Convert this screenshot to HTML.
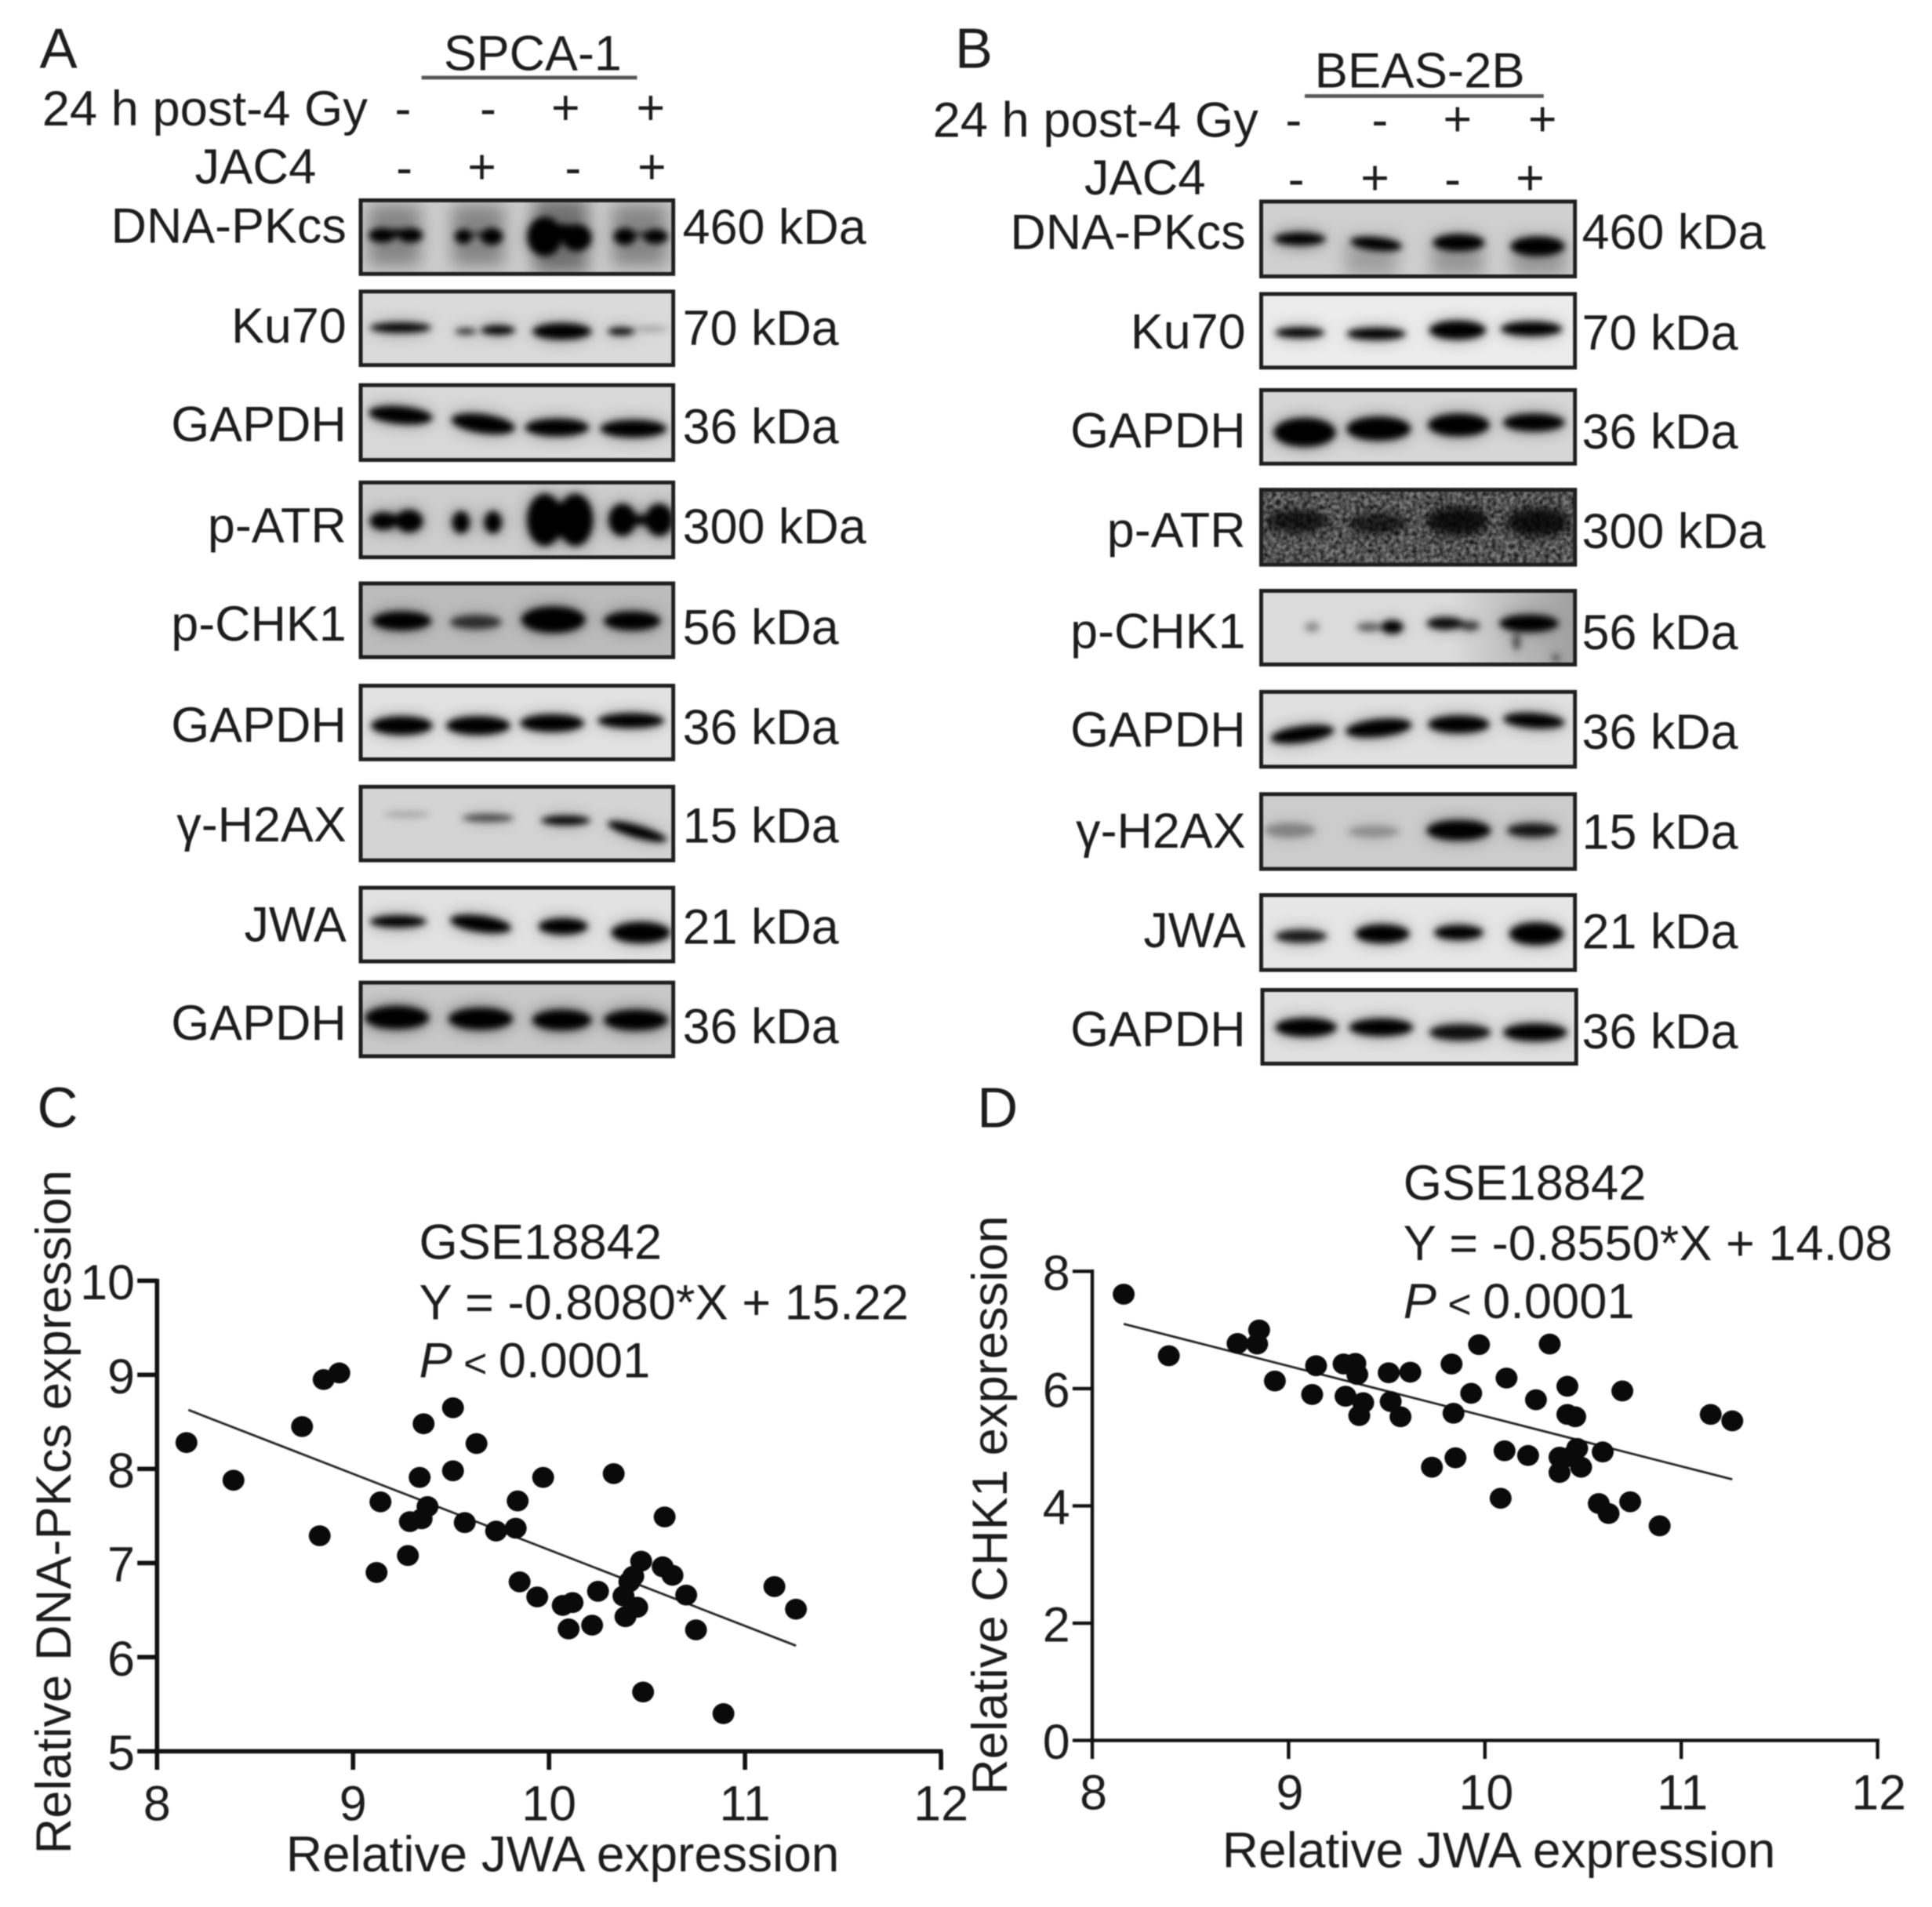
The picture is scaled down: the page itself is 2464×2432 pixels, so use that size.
<!DOCTYPE html>
<html lang="en">
<head>
<meta charset="utf-8">
<title>JWA western blots and correlation plots</title>
<style>
html,body{margin:0;padding:0;background:#fff;}
body{width:2464px;height:2432px;overflow:hidden;}
#fig{display:block;width:2464px;height:2432px;filter:blur(.8px);}
text{font-family:"Liberation Sans",sans-serif;font-size:40px;fill:#1c1c1c;}
.note{font-size:40.3px;}
.frame{fill:none;stroke:#1e1e1e;stroke-width:3.2;}
</style>
</head>
<body>
<svg id="fig" xmlns="http://www.w3.org/2000/svg" viewBox="0 0 1568 1548" width="2464" height="2432">
<defs>
<filter id="b" x="-30%" y="-100%" width="160%" height="300%"><feGaussianBlur stdDeviation="2.7"/></filter>
<filter id="h" x="-30%" y="-100%" width="160%" height="300%"><feGaussianBlur stdDeviation="7"/></filter>
<filter id="n" x="0" y="0" width="100%" height="100%"><feTurbulence type="fractalNoise" baseFrequency="0.28" numOctaves="2" seed="4"/><feColorMatrix type="matrix" values="0 0 0 0 0  0 0 0 0 0  0 0 0 0 0  1.5 0 0 0 -0.42"/></filter>
<linearGradient id="rd" x1="0" x2="1" y1="0" y2="0"><stop offset="0.6" stop-color="#000" stop-opacity="0"/><stop offset="1" stop-color="#000" stop-opacity=".28"/></linearGradient>
</defs>
<rect width="1568" height="1548" fill="#fff"/>

<!-- Panel A -->
<text x="32" y="55" style="font-size:46px">A</text>
<text x="360" y="57">SPCA-1</text>
<line x1="342" x2="517" y1="63" y2="63" stroke="#555" stroke-width="3"/>
<text x="34" y="102" style="font-size:40.3px">24 h post-4 Gy</text>
<text x="158" y="149" style="font-size:40.3px">JAC4</text>
<g text-anchor="middle">
<text x="327" y="102">-</text><text x="396" y="102">-</text><text x="459" y="101">+</text><text x="528" y="101">+</text>
</g>
<g text-anchor="middle">
<text x="328" y="150">-</text><text x="391" y="149">+</text><text x="465" y="150">-</text><text x="529" y="149">+</text>
</g>

<g text-anchor="end">
<text x="281" y="197">DNA-PKcs</text><text x="281" y="278">Ku70</text><text x="281" y="358">GAPDH</text>
<text x="281" y="440">p-ATR</text><text x="281" y="520">p-CHK1</text><text x="281" y="602">GAPDH</text>
<text x="281" y="683">γ-H2AX</text><text x="281" y="764">JWA</text><text x="281" y="844">GAPDH</text>
</g>
<g>
<text x="554" y="198">460 kDa</text><text x="554" y="280">70 kDa</text><text x="554" y="360">36 kDa</text>
<text x="554" y="441">300 kDa</text><text x="554" y="523">56 kDa</text><text x="554" y="604">36 kDa</text>
<text x="554" y="684">15 kDa</text><text x="554" y="766">21 kDa</text><text x="554" y="847">36 kDa</text>
</g>

<svg x="291" y="161" width="257" height="63">
<rect width="257" height="63" fill="#cdcdcd"/>
<g filter="url(#h)" opacity=".6"><use href="#a1"/><rect x="8" y="5" width="42" height="50" fill="#555"/><rect x="76" y="5" width="42" height="50" fill="#555"/><rect x="142" y="0" width="44" height="61" fill="#333"/><rect x="206" y="5" width="44" height="50" fill="#555"/></g>
<g filter="url(#b)"><g id="a1"><ellipse cx="19" cy="30" rx="11" ry="6"/><ellipse cx="42" cy="30" rx="10" ry="6"/><ellipse cx="31" cy="28" rx="12" ry="3"/><ellipse cx="85" cy="31" rx="7" ry="6"/><ellipse cx="108" cy="31" rx="9" ry="7"/><ellipse cx="97" cy="29" rx="8" ry="2" opacity=".6"/><ellipse cx="151" cy="31" rx="14" ry="16"/><ellipse cx="177" cy="32" rx="12" ry="11"/><ellipse cx="164" cy="28" rx="18" ry="7"/><ellipse cx="216" cy="31" rx="9" ry="7"/><ellipse cx="241" cy="31" rx="10" ry="6"/><ellipse cx="228" cy="29" rx="9" ry="2" opacity=".6"/></g></g>
<rect class="frame" x="1.6" y="1.6" width="253.8" height="59.8"/>
</svg>
<svg x="291" y="235" width="257" height="63">
<rect width="257" height="63" fill="#dadada"/>
<g filter="url(#h)" opacity=".4"><use href="#a2"/></g>
<g filter="url(#b)"><g id="a2"><ellipse cx="34" cy="31" rx="25" ry="4"/><ellipse cx="87" cy="34" rx="9" ry="2.5" opacity=".8"/><ellipse cx="113" cy="33" rx="14" ry="3.8"/><ellipse cx="165" cy="34" rx="24" ry="6.5"/><ellipse cx="213" cy="34" rx="11" ry="3"/><ellipse cx="237" cy="32" rx="14" ry="1.5" opacity=".35"/></g></g>
<rect class="frame" x="1.6" y="1.6" width="253.8" height="59.8"/>
</svg>
<svg x="291" y="311" width="257" height="64">
<rect width="257" height="64" fill="#d8d8d8"/>
<g filter="url(#h)" opacity=".4"><use href="#a3"/></g>
<g filter="url(#b)"><g id="a3"><ellipse cx="34" cy="26" rx="26" ry="7" transform="rotate(5 34 26)"/><ellipse cx="101" cy="33" rx="26" ry="7.5" transform="rotate(8 101 33)"/><ellipse cx="161" cy="36" rx="26" ry="7"/><ellipse cx="223" cy="37" rx="27" ry="7"/></g></g>
<rect class="frame" x="1.6" y="1.6" width="253.8" height="60.8"/>
</svg>
<svg x="291" y="390" width="257" height="64">
<rect width="257" height="64" fill="#cecece"/>
<g filter="url(#h)" opacity=".5"><use href="#a4"/></g>
<g filter="url(#b)"><g id="a4"><ellipse cx="20" cy="33" rx="11" ry="7"/><ellipse cx="41" cy="33" rx="11" ry="9"/><ellipse cx="31" cy="32" rx="10" ry="4"/><ellipse cx="83" cy="34" rx="7" ry="9"/><ellipse cx="109" cy="34" rx="7" ry="9"/><ellipse cx="151" cy="32" rx="14" ry="21"/><ellipse cx="176" cy="32" rx="14" ry="21"/><ellipse cx="163" cy="32" rx="12" ry="14"/><ellipse cx="214" cy="32" rx="11" ry="13"/><ellipse cx="244" cy="32" rx="11" ry="13"/><ellipse cx="229" cy="32" rx="12" ry="4"/></g></g>
<rect class="frame" x="1.6" y="1.6" width="253.8" height="60.8"/>
</svg>
<svg x="291" y="472" width="257" height="63">
<rect width="257" height="63" fill="#bcbcbc"/>
<g filter="url(#h)" opacity=".45"><use href="#a5"/></g>
<g filter="url(#b)"><g id="a5"><ellipse cx="35" cy="32" rx="24" ry="7.5"/><ellipse cx="95" cy="33" rx="21" ry="5.5" opacity=".72"/><ellipse cx="158" cy="31" rx="26" ry="10.5"/><ellipse cx="222" cy="32" rx="23" ry="7.5"/></g></g>
<rect class="frame" x="1.6" y="1.6" width="253.8" height="59.8"/>
</svg>
<svg x="291" y="555" width="257" height="63">
<rect width="257" height="63" fill="#e2e2e2"/>
<g filter="url(#h)" opacity=".35"><use href="#a6"/></g>
<g filter="url(#b)"><g id="a6"><ellipse cx="35" cy="34" rx="25" ry="7.5"/><ellipse cx="97" cy="34" rx="26" ry="7.5"/><ellipse cx="157" cy="32" rx="26" ry="7"/><ellipse cx="221" cy="30" rx="27" ry="6"/></g></g>
<rect class="frame" x="1.6" y="1.6" width="253.8" height="59.8"/>
</svg>
<svg x="291" y="637" width="257" height="63">
<rect width="257" height="63" fill="#d4d4d4"/>
<g filter="url(#h)" opacity=".3"><use href="#a7"/></g>
<g filter="url(#b)"><g id="a7"><ellipse cx="39" cy="24" rx="19" ry="2" opacity=".25"/><ellipse cx="105" cy="27" rx="21" ry="3.2" opacity=".65"/><ellipse cx="168" cy="29" rx="20" ry="3.8"/><ellipse cx="226" cy="38" rx="25" ry="5" transform="rotate(16 226 38)"/></g></g>
<rect class="frame" x="1.6" y="1.6" width="253.8" height="59.8"/>
</svg>
<svg x="291" y="719" width="257" height="63">
<rect width="257" height="63" fill="#e2e2e2"/>
<g filter="url(#h)" opacity=".4"><use href="#a8"/></g>
<g filter="url(#b)"><g id="a8"><ellipse cx="32" cy="29" rx="23" ry="4.8"/><ellipse cx="99" cy="31" rx="25" ry="6.5" transform="rotate(8 99 31)"/><ellipse cx="166" cy="33" rx="20" ry="6.5"/><ellipse cx="229" cy="38" rx="24" ry="8.5"/></g></g>
<rect class="frame" x="1.6" y="1.6" width="253.8" height="59.8"/>
</svg>
<svg x="291" y="796" width="257" height="63">
<rect width="257" height="63" fill="#c8c8c8"/>
<g filter="url(#h)" opacity=".6"><use href="#a9"/></g>
<g filter="url(#b)"><g id="a9"><ellipse cx="31" cy="30" rx="26" ry="9"/><ellipse cx="99" cy="31" rx="26" ry="8.5"/><ellipse cx="165" cy="32" rx="24" ry="8"/><ellipse cx="225" cy="32" rx="26" ry="8"/></g></g>
<rect class="frame" x="1.6" y="1.6" width="253.8" height="59.8"/>
</svg>

<!-- Panel B -->
<text x="775" y="55" style="font-size:46px">B</text>
<text x="1067" y="71" style="font-size:40.4px">BEAS-2B</text>
<line x1="1059" x2="1253" y1="78" y2="78" stroke="#555" stroke-width="3"/>
<text x="757" y="111" style="font-size:40.3px">24 h post-4 Gy</text>
<text x="880" y="158" style="font-size:40.3px">JAC4</text>
<g text-anchor="middle">
<text x="1050" y="111">-</text><text x="1120" y="111">-</text><text x="1183" y="110">+</text><text x="1252" y="110">+</text>
</g>
<g text-anchor="middle">
<text x="1052" y="159">-</text><text x="1116" y="158">+</text><text x="1179" y="159">-</text><text x="1242" y="158">+</text>
</g>

<g text-anchor="end">
<text x="1011" y="202">DNA-PKcs</text><text x="1011" y="283">Ku70</text><text x="1011" y="363">GAPDH</text>
<text x="1011" y="444">p-ATR</text><text x="1011" y="526">p-CHK1</text><text x="1011" y="606">GAPDH</text>
<text x="1011" y="688">γ-H2AX</text><text x="1011" y="769">JWA</text><text x="1011" y="849">GAPDH</text>
</g>
<g>
<text x="1284" y="202">460 kDa</text><text x="1284" y="284">70 kDa</text><text x="1284" y="364">36 kDa</text>
<text x="1284" y="445">300 kDa</text><text x="1284" y="527">56 kDa</text><text x="1284" y="608">36 kDa</text>
<text x="1284" y="689">15 kDa</text><text x="1284" y="770">21 kDa</text><text x="1284" y="851">36 kDa</text>
</g>

<svg x="1022" y="162" width="258" height="64">
<rect width="258" height="64" fill="#d0d0d0"/>
<g filter="url(#h)" opacity=".55"><use href="#b1"/><rect x="70" y="30" width="42" height="32" fill="#777"/><rect x="140" y="30" width="42" height="32" fill="#666"/><rect x="205" y="30" width="44" height="32" fill="#666"/></g>
<g filter="url(#b)"><g id="b1"><ellipse cx="33" cy="32" rx="21" ry="5"/><ellipse cx="95" cy="36" rx="21" ry="5.5" transform="rotate(6 95 36)"/><ellipse cx="162" cy="35" rx="21" ry="7"/><ellipse cx="226" cy="38" rx="22" ry="8"/></g></g>
<rect class="frame" x="1.6" y="1.6" width="254.8" height="60.8"/>
</svg>
<svg x="1022" y="237" width="258" height="63">
<rect width="258" height="63" fill="#ececec"/>
<g filter="url(#h)" opacity=".4"><use href="#b2"/></g>
<g filter="url(#b)"><g id="b2"><ellipse cx="33" cy="33" rx="20" ry="4.2"/><ellipse cx="95" cy="34" rx="24" ry="4.8"/><ellipse cx="161" cy="31" rx="23" ry="7.5"/><ellipse cx="221" cy="30" rx="25" ry="5.8"/></g></g>
<rect class="frame" x="1.6" y="1.6" width="254.8" height="59.8"/>
</svg>
<svg x="1022" y="315" width="258" height="63">
<rect width="258" height="63" fill="#d6d6d6"/>
<g filter="url(#h)" opacity=".45"><use href="#b3"/></g>
<g filter="url(#b)"><g id="b3"><ellipse cx="37" cy="36" rx="25" ry="11.5"/><ellipse cx="97" cy="33" rx="26" ry="9.5"/><ellipse cx="162" cy="30" rx="25" ry="9"/><ellipse cx="223" cy="28" rx="25" ry="7"/></g></g>
<rect class="frame" x="1.6" y="1.6" width="254.8" height="59.8"/>
</svg>
<svg x="1022" y="396" width="258" height="64">
<rect width="258" height="64" fill="#7c7c7c"/>
<rect width="258" height="64" filter="url(#n)"/>
<g filter="url(#h)" opacity=".55"><use href="#b4"/></g>
<g filter="url(#b)"><g id="b4"><ellipse cx="31" cy="27" rx="25" ry="9" opacity=".65"/><ellipse cx="96" cy="29" rx="23" ry="8" opacity=".6"/><ellipse cx="161" cy="27" rx="25" ry="11" opacity=".75"/><ellipse cx="226" cy="28" rx="25" ry="11" opacity=".75"/></g></g>
<rect class="frame" x="1.6" y="1.6" width="254.8" height="60.8"/>
</svg>
<svg x="1022" y="478" width="258" height="63">
<rect width="258" height="63" fill="#dcdcdc"/>
<rect width="258" height="63" fill="url(#rd)"/>
<g filter="url(#h)" opacity=".3"><use href="#b5"/></g>
<g filter="url(#b)"><g id="b5"><ellipse cx="43" cy="31" rx="6" ry="4" opacity=".35"/><ellipse cx="89" cy="31" rx="10" ry="3.5" opacity=".55"/><ellipse cx="108" cy="31" rx="9" ry="5.5"/><ellipse cx="151" cy="28" rx="15" ry="5" opacity=".95"/><ellipse cx="171" cy="30" rx="8" ry="4" opacity=".7"/><ellipse cx="219" cy="28" rx="24" ry="7"/><ellipse cx="209" cy="43" rx="3" ry="7" opacity=".6"/><ellipse cx="241" cy="56" rx="3" ry="3" opacity=".6"/></g></g>
<rect class="frame" x="1.6" y="1.6" width="254.8" height="59.8"/>
</svg>
<svg x="1022" y="560" width="258" height="64">
<rect width="258" height="64" fill="#e0e0e0"/>
<g filter="url(#h)" opacity=".4"><use href="#b6"/></g>
<g filter="url(#b)"><g id="b6"><ellipse cx="35" cy="36" rx="26" ry="6.5" transform="rotate(-8 35 36)"/><ellipse cx="97" cy="31" rx="27" ry="7" transform="rotate(-6 97 31)"/><ellipse cx="162" cy="28" rx="25" ry="7"/><ellipse cx="223" cy="25" rx="25" ry="6" transform="rotate(4 223 25)"/></g></g>
<rect class="frame" x="1.6" y="1.6" width="254.8" height="60.8"/>
</svg>
<svg x="1022" y="643" width="258" height="64">
<rect width="258" height="64" fill="#cccccc"/>
<g filter="url(#h)" opacity=".45"><use href="#b7"/></g>
<g filter="url(#b)"><g id="b7"><ellipse cx="25" cy="31" rx="21" ry="6" opacity=".3"/><ellipse cx="93" cy="32" rx="21" ry="5" opacity=".25"/><ellipse cx="162" cy="31" rx="26" ry="8"/><ellipse cx="222" cy="31" rx="21" ry="5.5" opacity=".88"/></g></g>
<rect class="frame" x="1.6" y="1.6" width="254.8" height="60.8"/>
</svg>
<svg x="1022" y="725" width="258" height="64">
<rect width="258" height="64" fill="#e6e6e6"/>
<g filter="url(#h)" opacity=".4"><use href="#b8"/></g>
<g filter="url(#b)"><g id="b8"><ellipse cx="34" cy="35" rx="21" ry="5.2" opacity=".88"/><ellipse cx="100" cy="33" rx="22" ry="7.5"/><ellipse cx="162" cy="32" rx="20" ry="6"/><ellipse cx="225" cy="33" rx="22" ry="9"/></g></g>
<rect class="frame" x="1.6" y="1.6" width="254.8" height="60.8"/>
</svg>
<svg x="1023" y="802" width="258" height="63">
<rect width="258" height="63" fill="#e0e0e0"/>
<g filter="url(#h)" opacity=".4"><use href="#b9"/></g>
<g filter="url(#b)"><g id="b9"><ellipse cx="37" cy="32" rx="25" ry="7.5"/><ellipse cx="98" cy="32" rx="26" ry="7"/><ellipse cx="162" cy="36" rx="25" ry="6.5" opacity=".92"/><ellipse cx="223" cy="36" rx="26" ry="7"/></g></g>
<rect class="frame" x="1.6" y="1.6" width="254.8" height="59.8"/>
</svg>

<!-- Panel C static text -->
<text x="30" y="915" style="font-size:46px">C</text>
<text class="note" x="340" y="1022">GSE18842</text>
<text class="note" x="340" y="1071" style="font-size:40.25px">Y = -0.8080*X + 15.22</text>
<text class="note" x="340" y="1118"><tspan font-style="italic">P</tspan><tspan style="font-size:33px"> &lt; </tspan>0.0001</text>
<text x="232" y="1519" style="font-size:40.75px">Relative JWA expression</text>
<text transform="translate(57 1505) rotate(-90)" style="font-size:40.3px">Relative DNA-PKcs expression</text>

<!-- Panel D static text -->
<text x="793" y="915" style="font-size:46px">D</text>
<text class="note" x="1139" y="974">GSE18842</text>
<text class="note" x="1139" y="1023" style="font-size:40.2px">Y = -0.8550*X + 14.08</text>
<text class="note" x="1139" y="1070"><tspan font-style="italic">P</tspan><tspan style="font-size:33px"> &lt; </tspan>0.0001</text>
<text x="992" y="1516" style="font-size:40.75px">Relative JWA expression</text>
<text transform="translate(817 1457) rotate(-90)" style="font-size:40.3px">Relative CHK1 expression</text>

<g id="chart-c"></g>
<g id="chart-d"></g>
</svg>

<script>
/* Panel C values */
const cJwa = [8.15,8.39,8.74,8.85,8.93,8.83,9.14,9.12,9.28,9.29,9.35,9.38,9.34,9.36,9.51,9.51,9.63,9.57,9.73,9.83,9.84,9.97,9.85,9.94,10.07,10.12,10.10,10.22,10.25,10.33,10.38,10.39,10.45,10.41,10.43,10.47,10.59,10.58,10.63,10.70,10.75,10.48,10.89,11.15,11.26];
const cDnaPk = [8.28,7.88,8.45,8.95,9.02,7.29,7.65,6.90,7.08,7.44,7.47,7.60,7.91,8.48,8.65,7.98,8.27,7.43,7.34,7.37,7.66,7.91,6.80,6.64,6.55,6.58,6.30,6.34,6.70,7.95,6.65,6.43,6.53,6.80,6.86,7.02,7.49,6.96,6.87,6.66,6.29,5.63,5.40,6.75,6.51];
const cFit = [-0.8080, 15.22];
const cFitRange = [8.16, 11.26];
const cXTicks = [8,9,10,11,12];
const cYTicks = [5,6,7,8,9,10];

/* Panel D values */
const dJwa = [8.16,8.39,8.74,8.84,8.85,8.93,9.14,9.12,9.28,9.34,9.35,9.29,9.38,9.36,9.51,9.52,9.62,9.57,9.73,9.83,9.84,9.85,9.93,9.97,10.08,10.10,10.11,10.22,10.26,10.33,10.38,10.38,10.42,10.42,10.46,10.44,10.47,10.49,10.60,10.58,10.63,10.70,10.74,10.89,11.15,11.26];
const dChk1 = [7.61,6.56,6.77,6.76,7.00,6.13,6.39,5.90,6.42,6.43,6.24,5.87,5.76,5.54,6.27,5.78,6.28,5.52,4.66,6.42,5.58,4.82,5.92,6.75,4.13,4.94,6.18,4.86,5.81,6.76,4.83,4.57,6.04,5.56,5.52,4.84,4.98,4.66,4.92,4.04,3.87,5.96,4.07,3.66,5.56,5.45];
const dFit = [-0.8550, 14.08];
const dFitRange = [8.16, 11.26];
const dXTicks = [8,9,10,11,12];
const dYTicks = [0,2,4,6,8];

const SVG_NS = 'http://www.w3.org/2000/svg';
function make(tag, parent, attrs, txt) {
  const el = document.createElementNS(SVG_NS, tag);
  for (const k in attrs) el.setAttribute(k, attrs[k]);
  if (txt !== undefined) el.textContent = txt;
  parent.appendChild(el);
  return el;
}
function drawScatter(root, opt) {
  const sx = v => opt.x0 + (v - opt.xMin) / (opt.xMax - opt.xMin) * (opt.x1 - opt.x0);
  const sy = v => opt.y0 - (v - opt.yMin) / (opt.yMax - opt.yMin) * (opt.y0 - opt.y1);

  const xAxis = make('line', root, {x1: opt.x0 - 2, x2: opt.x1 + 1.5, y1: opt.y0, y2: opt.y0, stroke: '#111', 'stroke-width': opt.axisW});
  
  
  const yAxis = make('line', root, {x1: opt.x0, x2: opt.x0, y1: opt.y1 - 1.5, y2: opt.y0 + 1.5, stroke: '#111', 'stroke-width': opt.axisW});
  
  

  opt.xTicks.forEach(v => {
    const t = make('line', root, {x1: sx(v), x2: sx(v), y1: opt.y0, y2: opt.y0 + 15, stroke: '#111', 'stroke-width': opt.axisW});
    
    
    const l = make('text', root, {x: sx(v) + opt.xLabelDx, y: opt.y0 + 56, 'text-anchor': 'middle'}, String(v));
    
    
  });
  opt.yTicks.forEach(v => {
    const t = make('line', root, {x1: opt.x0 - 16, x2: opt.x0, y1: sy(v), y2: sy(v), stroke: '#111', 'stroke-width': opt.axisW});
    
    
    const l = make('text', root, {x: opt.x0 - 18, y: sy(v) + 15, 'text-anchor': 'end'}, String(v));
    
    
  });

  const fitAt = v => opt.fit[0] * v + opt.fit[1];
  const fit = make('line', root, {x1: sx(opt.fitRange[0]), y1: sy(fitAt(opt.fitRange[0])), x2: sx(opt.fitRange[1]), y2: sy(fitAt(opt.fitRange[1])), stroke: '#222', 'stroke-width': 1.8});
  
  

  opt.xs.forEach((v, i) => {
    const p = make('ellipse', root, {cx: sx(v), cy: sy(opt.ys[i]), rx: 8.9, ry: 8.5, fill: '#0a0a0a'});
    
    
  });
}
drawScatter(document.getElementById('chart-c'), {
  x0: 127.3, x1: 763.7, y0: 1421.6, y1: 1039.6,
  xMin: 8, xMax: 12, yMin: 5, yMax: 10,
  xs: cJwa, ys: cDnaPk, fit: cFit, fitRange: cFitRange,
  xTicks: cXTicks, yTicks: cYTicks, axisW: 3.6, xLabelDx: 0
});
drawScatter(document.getElementById('chart-d'), {
  x0: 886.5, x1: 1524, y0: 1412.8, y1: 1032,
  xMin: 8, xMax: 12, yMin: 0, yMax: 8,
  xs: dJwa, ys: dChk1, fit: dFit, fitRange: dFitRange,
  xTicks: dXTicks, yTicks: dYTicks, axisW: 2.8, xLabelDx: 1
});
</script>
</body>
</html>
